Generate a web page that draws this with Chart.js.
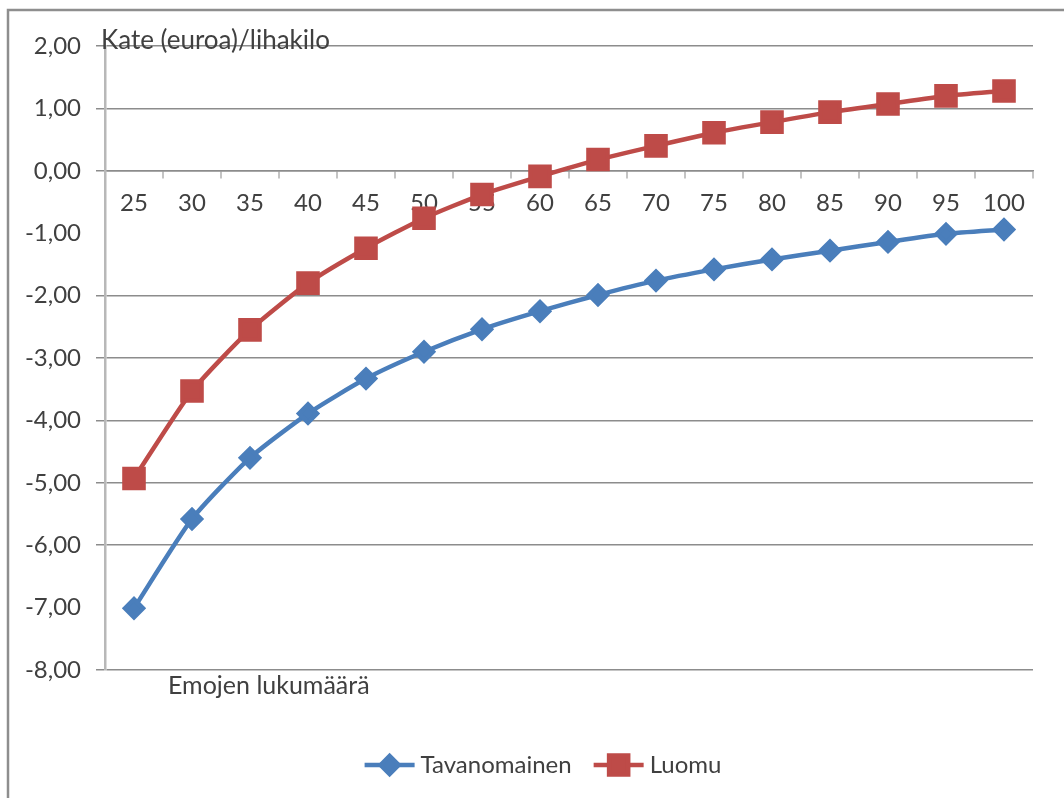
<!DOCTYPE html>
<html lang="fi">
<head>
<meta charset="UTF-8">
<title>Kate (euroa)/lihakilo</title>
<script src="https://cdn.jsdelivr.net/npm/chart.js"></script>
<style>
  html, body { margin: 0; padding: 0; background: #fff; }
  #wrap { width: 1064px; height: 798px; }
</style>
</head>
<body>
<div id="wrap"><canvas id="kateChart" width="1064" height="798"></canvas></div>
<script>
// emojen lukumäärä
const herdSizes = ['25', '30', '35', '40', '45', '50', '55', '60', '65', '70', '75', '80', '85', '90', '95', '100'];
// kate euroa / lihakilo
const tavanomainen = [-7.01, -5.58, -4.60, -3.89, -3.33, -2.90, -2.54, -2.25, -1.99, -1.76, -1.58, -1.42, -1.28, -1.14, -1.01, -0.94];
const luomu = [-4.93, -3.53, -2.55, -1.80, -1.24, -0.76, -0.38, -0.09, 0.18, 0.40, 0.61, 0.78, 0.94, 1.07, 1.20, 1.28];

const yTitle = 'Kate (euroa)/lihakilo';
const xTitle = 'Emojen lukumäärä';

const textColor = '#404040';
const fontFamily = 'Lato, "Open Sans", sans-serif';
const blue = '#4a7ebb';
const red = '#be4b48';

// frame, axis titles and legend drawn straight onto the canvas
const decorations = {
  id: 'decorations',
  beforeDraw(chart) {
    const ctx = chart.ctx;
    ctx.save();
    ctx.strokeStyle = '#8e8e8e';
    ctx.lineWidth = 2.5;
    ctx.beginPath();
    ctx.moveTo(8, chart.height);
    ctx.lineTo(8, 10);
    ctx.lineTo(chart.width, 10);
    ctx.stroke();
    ctx.restore();
  },
  afterDraw(chart) {
    const ctx = chart.ctx;
    const area = chart.chartArea;
    ctx.save();
    ctx.fillStyle = textColor;
    ctx.textBaseline = 'middle';
    ctx.textAlign = 'left';
    ctx.font = '26px ' + fontFamily;
    ctx.fillText(yTitle, area.left - 4, area.top - 5);
    ctx.font = '25px ' + fontFamily;
    ctx.fillText(xTitle, 168, area.bottom + 16);

    // legend: line with marker, then label
    ctx.font = '24px ' + fontFamily;
    const lineLen = 50, gap = 6, itemGap = 22;
    const items = chart.data.datasets.map(ds => ({
      ds, w: lineLen + gap + ctx.measureText(ds.label).width
    }));
    const total = items.reduce((s, it) => s + it.w, 0) + itemGap * (items.length - 1);
    let x = 543 - total / 2;
    const y = 765;
    items.forEach(it => {
      const ds = it.ds;
      ctx.strokeStyle = ds.borderColor;
      ctx.lineWidth = ds.borderWidth;
      ctx.beginPath();
      ctx.moveTo(x, y);
      ctx.lineTo(x + lineLen, y);
      ctx.stroke();
      ctx.fillStyle = ds.pointBackgroundColor;
      ctx.strokeStyle = ds.pointBorderColor;
      Chart.helpers.drawPoint(ctx, {
        pointStyle: ds.pointStyle, radius: ds.pointRadius, rotation: 0, borderWidth: 1
      }, x + lineLen / 2, y);
      ctx.fillStyle = textColor;
      ctx.fillText(ds.label, x + lineLen + gap, y);
      x += it.w + itemGap;
    });
    ctx.restore();
  }
};

const ctx = document.getElementById('kateChart').getContext('2d');
const kateChart = new Chart(ctx, {
  type: 'line',
  data: {
    labels: herdSizes,
    datasets: [{
      label: 'Tavanomainen',
      data: tavanomainen,
      borderColor: blue,
      backgroundColor: blue,
      pointBackgroundColor: blue,
      pointBorderColor: blue,
      borderWidth: 4.5,
      pointStyle: 'rectRot',
      pointRadius: 9,
      pointHoverRadius: 9,
      tension: 0.2
    }, {
      label: 'Luomu',
      data: luomu,
      borderColor: red,
      backgroundColor: red,
      pointBackgroundColor: red,
      pointBorderColor: red,
      borderWidth: 4.5,
      pointStyle: 'rect',
      pointRadius: 13.5,
      pointHoverRadius: 13.5,
      tension: 0.2
    }]
  },
  options: {
    responsive: false,
    animation: false,
    layout: { padding: { top: 46, right: 31, bottom: 128, left: 0 } },
    plugins: {
      legend: { display: false },
      tooltip: { enabled: false }
    },
    scales: {
      x: {
        type: 'category',
        position: { y: 0 },
        offset: true,
        grid: {
          offset: true,
          drawOnChartArea: false,
          tickLength: 7,
          color: '#c4c4c4',
          lineWidth: 2
        },
        border: { color: '#8c8c8c', width: 1.5 },
        ticks: {
          color: textColor,
          font: { family: fontFamily, size: 24 },
          padding: 11,
          maxRotation: 0,
          autoSkip: false
        }
      },
      y: {
        min: -8,
        max: 2,
        afterFit(scale) { scale.width = 105; },
        grid: {
          tickLength: 9,
          lineWidth: 1.5,
          color: c => (c.tick && (c.tick.value === -1 || c.tick.value === -7)) ? 'rgba(0,0,0,0)' : '#8c8c8c'
        },
        border: { color: '#b8b8b8', width: 2.5 },
        ticks: {
          stepSize: 1,
          color: textColor,
          font: { family: fontFamily, size: 24 },
          padding: 15,
          callback: v => v.toFixed(2).replace('.', ',')
        }
      }
    }
  },
  plugins: [decorations]
});
</script>
</body>
</html>
